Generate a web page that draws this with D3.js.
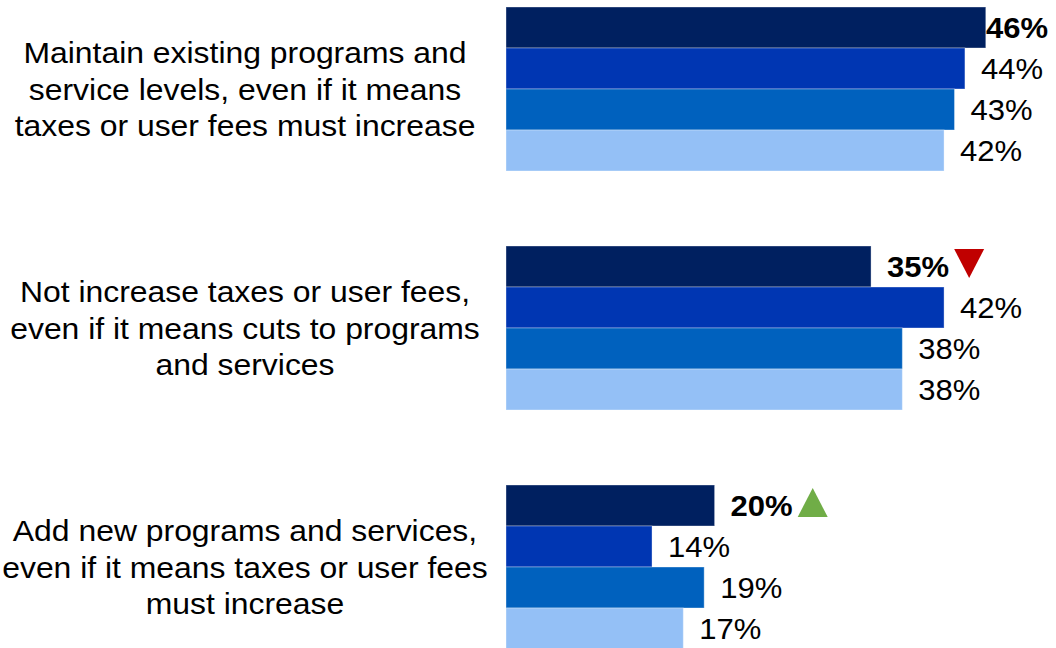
<!DOCTYPE html>
<html>
<head>
<meta charset="utf-8">
<script src="https://cdn.jsdelivr.net/npm/d3@7"></script>
<style>
  html, body { margin: 0; padding: 0; background: #fff; }
  svg { display: block; font-family: "Liberation Sans", Arial, sans-serif; }
</style>
</head>
<body>
<svg id="chart" width="1056" height="648"></svg>
<script>
// Statements, one per group of bars (each split into display lines)
const categories = [
  ["Maintain existing programs and", "service levels, even if it means", "taxes or user fees must increase"],
  ["Not increase taxes or user fees,", "even if it means cuts to programs", "and services"],
  ["Add new programs and services,", "even if it means taxes or user fees", "must increase"]
];
const categoryKeys = ["maintain", "noIncrease", "addNew"];

// Survey waves, most recent first
const series = ["wave4", "wave3", "wave2", "wave1"];
const seriesColors = ["#002060", "#0036B2", "#0061BE", "#94C0F6"];

// Percentages per wave, one value per statement
const wave4 = [46, 35, 20];
const wave3 = [44, 42, 14];
const wave2 = [43, 38, 19];
const wave1 = [42, 38, 17];
const values = [wave4, wave3, wave2, wave1];

// Significant change markers for the latest wave
const changes = ["", "down", "up"];

const svg = d3.select("#chart");
const W = 1056;
const fontSize = 29;
const catStretch = 1.1;   // slightly wide type for the statements
const valStretch = 1.07;  // and for the percentage labels

const y0 = d3.scaleBand()
  .domain(categoryKeys)
  .range([7, 649])
  .paddingInner(75 / 239)
  .paddingOuter(0);

const y1 = d3.scaleBand()
  .domain(series)
  .range([0, y0.bandwidth()])
  .padding(0);

const x = d3.scaleLinear()
  .domain([0, 50])
  .range([506, 506 + 521.5]);

// Category labels on the left
const catG = svg.append("g");
categoryKeys.forEach((k, i) => {
  const cy = y0(k) + y0.bandwidth() / 2;
  const lines = categories[i];
  const lh = 36.7;
  lines.forEach((line, j) => {
    const ly = cy + 10.5 + (j - (lines.length - 1) / 2) * lh;
    catG.append("text")
      .attr("transform", `translate(245,${ly}) scale(${catStretch},1)`)
      .attr("text-anchor", "middle")
      .attr("font-size", fontSize)
      .attr("fill", "#000")
      .text(line);
  });
});

// Bars and value labels
categoryKeys.forEach((k, ci) => {
  const g = svg.append("g").attr("transform", `translate(0,${y0(k)})`);
  series.forEach((s, si) => {
    const v = values[si][ci];
    const top = y1(s);
    g.append("rect")
      .attr("x", x(0))
      .attr("y", top)
      .attr("width", x(v) - x(0))
      .attr("height", y1.bandwidth())
      .attr("fill", seriesColors[si])
      .attr("stroke", "rgba(255,255,255,0.35)")
      .attr("stroke-width", 1);

    const bold = si === 0;
    const ly = top + y1.bandwidth() / 2 + 10.5;
    const label = g.append("text")
      .attr("font-size", fontSize)
      .attr("font-weight", bold ? "bold" : "normal")
      .attr("fill", "#000")
      .text(v + "%");
    const tw = label.node().getComputedTextLength() * valStretch;
    const lx = Math.min(x(v) + 16, W - 8 - tw);
    label.attr("transform", `translate(${lx},${ly}) scale(${valStretch},1)`);

    if (bold && changes[ci]) {
      const tx = lx + tw + 5;
      const cy = top + y1.bandwidth() / 2 - 3;
      const w = 30, h = 29;
      const path = changes[ci] === "down"
        ? `M${tx},${cy - h / 2}L${tx + w},${cy - h / 2}L${tx + w / 2},${cy + h / 2}Z`
        : `M${tx},${cy + h / 2}L${tx + w},${cy + h / 2}L${tx + w / 2},${cy - h / 2}Z`;
      g.append("path")
        .attr("d", path)
        .attr("fill", changes[ci] === "down" ? "#C00000" : "#70AD47");
    }
  });
});
</script>
</body>
</html>
